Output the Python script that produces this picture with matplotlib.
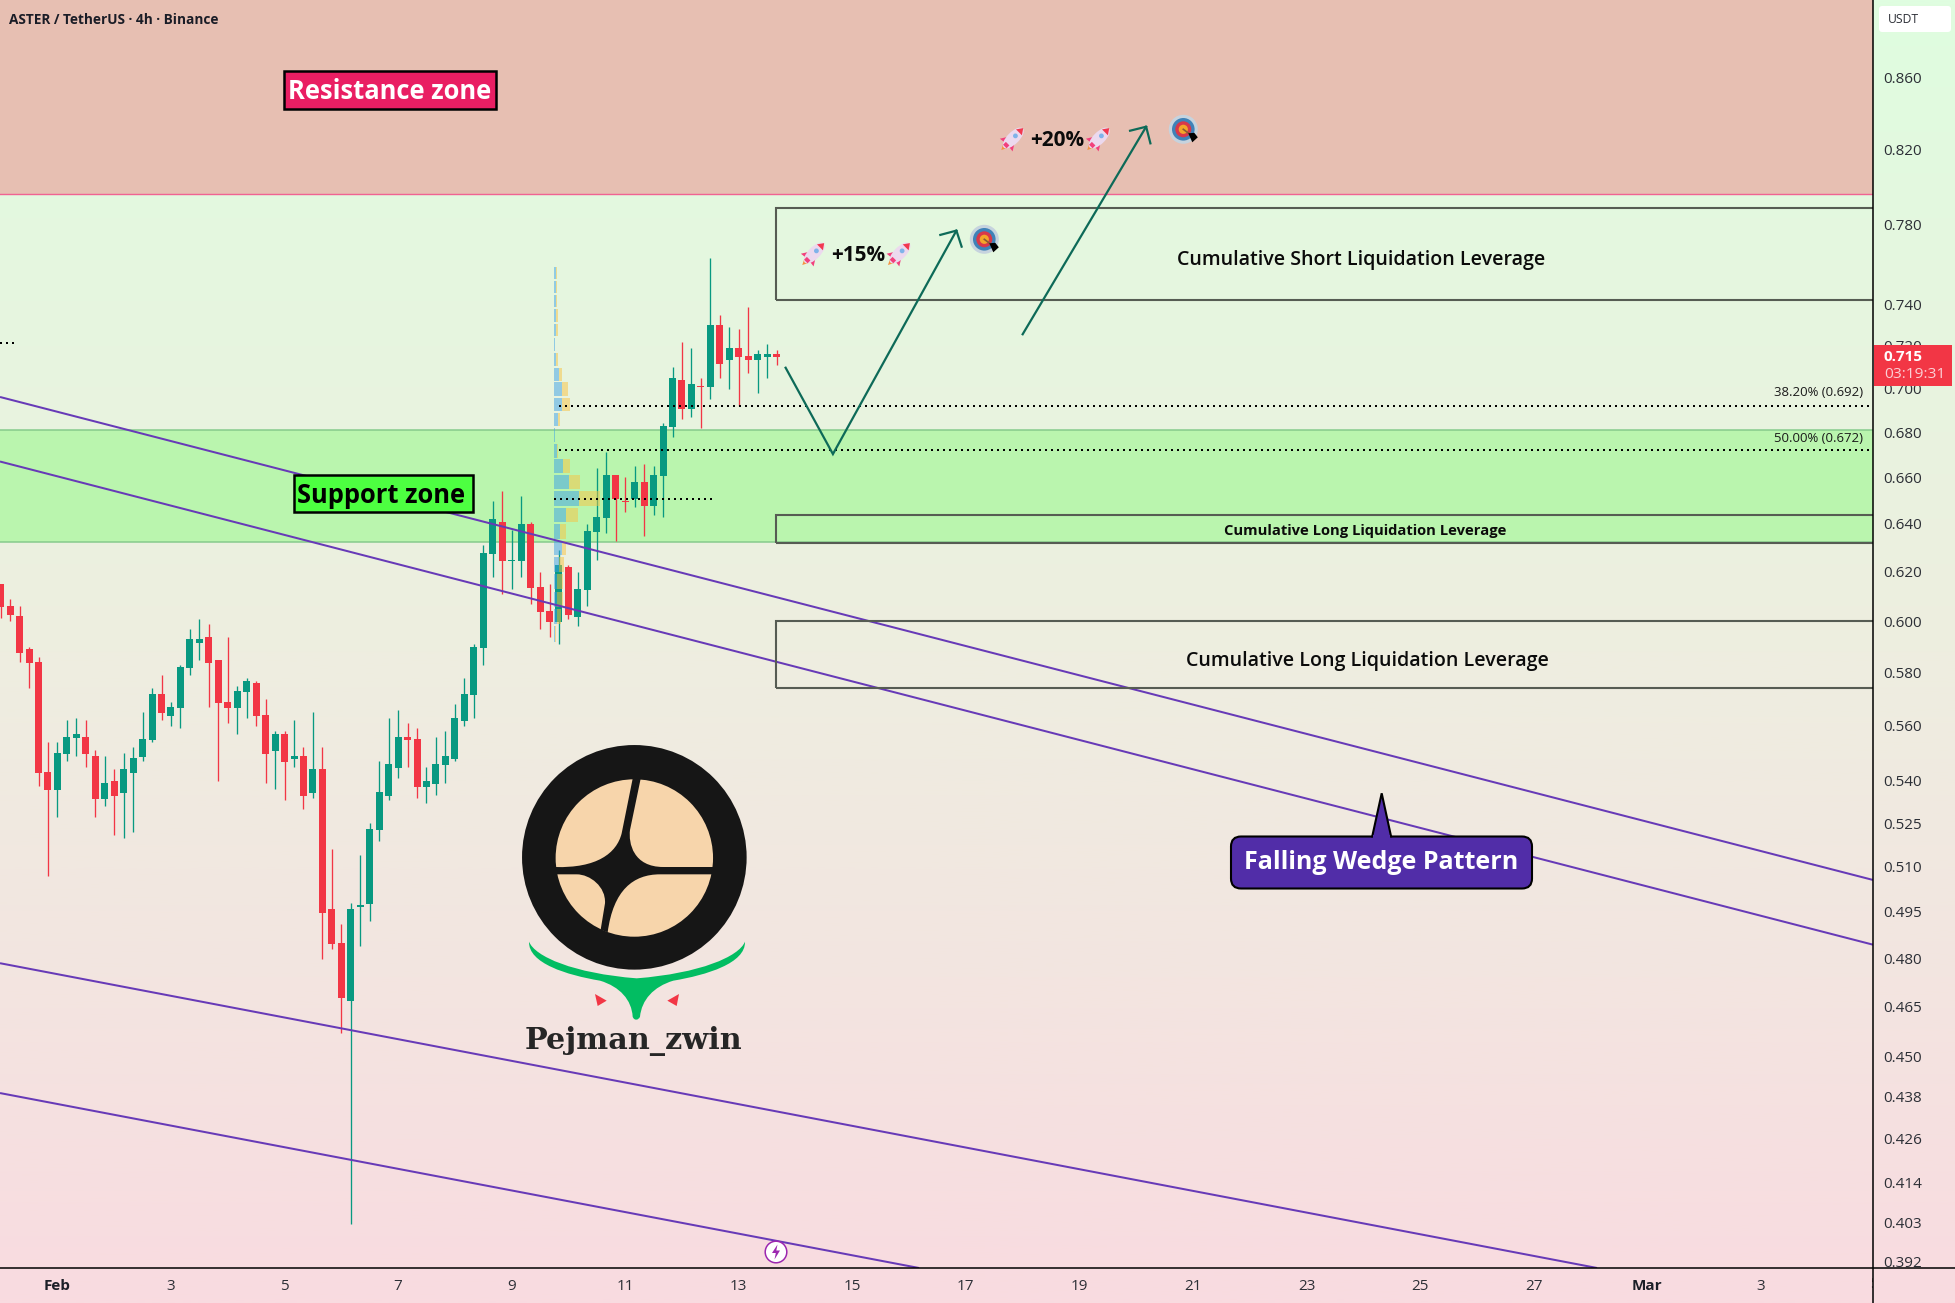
import numpy as np
import matplotlib
matplotlib.use('Agg')
import matplotlib.pyplot as plt
from matplotlib.colors import LinearSegmentedColormap
from matplotlib.patches import Rectangle, Circle, Ellipse, Polygon, PathPatch, FancyBboxPatch
from matplotlib.path import Path
from matplotlib.transforms import Bbox
from matplotlib.ticker import NullLocator

plt.rcParams['font.family'] = ['Open Sans', 'DejaVu Sans']

# ---------- data (4h bars, bar 0 = 31 Jan 00:00) ----------
opens = [0.6150,0.6060,0.6021,0.5891,0.5840,0.5430,0.5367,0.5496,0.5554,0.5557,0.5488,0.5334,0.5398,0.5356,
         0.5427,0.5484,0.5546,0.5718,0.5635,0.5666,0.5818,0.5915,0.5937,0.5848,0.5687,0.5666,0.5725,0.5760,
         0.5639,0.5506,0.5569,0.5477,0.5488,0.5356,0.5441,0.4960,0.4850,0.4666,0.4966,0.4976,0.5226,0.5344,
         0.5445,0.5557,0.5550,0.5377,0.5387,0.5455,0.5477,0.5617,0.5714,0.5895,0.6273,0.6407,0.6244,0.6244,
         0.6399,0.6137,0.6041,0.5997,0.6219,0.6017,0.6125,0.6365,0.6424,0.6610,0.6497,0.6506,0.6579,0.6475,
         0.6605,0.6823,0.7039,0.6905,0.7011,0.7006,0.7300,0.7132,0.7189,0.7151,0.7132,0.7147,0.7161]
highs = [0.6150,0.6089,0.6060,0.5898,0.5859,0.5539,0.5539,0.5620,0.5628,0.5620,0.5510,0.5488,0.5441,0.5499,
         0.5520,0.5650,0.5741,0.5790,0.5687,0.5829,0.5969,0.6009,0.5989,0.5848,0.5937,0.5748,0.5779,0.5767,
         0.5699,0.5579,0.5579,0.5620,0.5520,0.5650,0.5520,0.5161,0.4911,0.4980,0.5140,0.5250,0.5470,0.5628,
         0.5658,0.5609,0.5591,0.5448,0.5557,0.5580,0.5680,0.5779,0.5910,0.6310,0.6497,0.6540,0.6373,0.6518,
         0.6407,0.6199,0.6150,0.6290,0.6227,0.6199,0.6399,0.6640,0.6711,0.6610,0.6601,0.6649,0.6658,0.6649,
         0.6841,0.7099,0.7218,0.7189,0.7048,0.7631,0.7348,0.7290,0.7280,0.7387,0.7180,0.7208,0.7180]
lows = [0.6011,0.6001,0.5840,0.5741,0.5380,0.5070,0.5272,0.5470,0.5488,0.5448,0.5272,0.5309,0.5208,0.5199,
        0.5218,0.5470,0.5539,0.5620,0.5598,0.5591,0.5790,0.5848,0.5668,0.5398,0.5610,0.5569,0.5628,0.5598,
        0.5391,0.5370,0.5330,0.5448,0.5299,0.5338,0.4798,0.4830,0.4569,0.4026,0.4839,0.4920,0.5188,0.5330,
        0.5409,0.5448,0.5338,0.5320,0.5348,0.5391,0.5470,0.5598,0.5628,0.5829,0.6178,0.6109,0.6129,0.6178,
        0.6069,0.5969,0.5938,0.5910,0.6009,0.5981,0.6061,0.6248,0.6361,0.6327,0.6450,0.6471,0.6348,0.6437,
        0.6429,0.6778,0.6859,0.6868,0.6819,0.6951,0.7048,0.6997,0.6919,0.7071,0.6978,0.7048,0.7109]
closes = [0.6058,0.6026,0.5877,0.5837,0.5427,0.5367,0.5499,0.5557,0.5569,0.5496,0.5334,0.5391,0.5344,0.5441,
          0.5481,0.5550,0.5718,0.5647,0.5668,0.5820,0.5930,0.5930,0.5837,0.5684,0.5666,0.5729,0.5767,0.5635,
          0.5496,0.5569,0.5466,0.5488,0.5344,0.5441,0.4947,0.4846,0.4676,0.4960,0.4969,0.5229,0.5358,0.5459,
          0.5557,0.5546,0.5377,0.5398,0.5459,0.5488,0.5628,0.5718,0.5899,0.6277,0.6420,0.6244,0.6248,0.6399,
          0.6133,0.6037,0.5997,0.6227,0.6025,0.6129,0.6369,0.6429,0.6610,0.6506,0.6493,0.6579,0.6475,0.6610,
          0.6828,0.7048,0.6905,0.7020,0.7006,0.7300,0.7114,0.7189,0.7147,0.7132,0.7161,0.7161,0.7147]

y_ticks = [0.860,0.820,0.780,0.740,0.720,0.700,0.680,0.660,0.640,0.620,0.600,0.580,0.560,0.540,0.525,
           0.510,0.495,0.480,0.465,0.450,0.438,0.426,0.414,0.403,0.392]
x_tick_bars = [6,18,30,42,54,66,78,90,102,114,126,138,150,162,174,186]
x_tick_labels = ['Feb','3','5','7','9','11','13','15','17','19','21','23','25','27','Mar','3']

resistance_zone = (0.7959, 0.9051)
support_zone = (0.6324, 0.6808)
liq_boxes = [(0.7421, 0.7889), (0.6320, 0.6437), (0.5741, 0.6002)]
fib_levels = [0.692, 0.672]
poc_level = 0.6506
old_level = 0.7213
wedge_lines = [((-0.07,0.6960),(197.86,0.5056)),
               ((-0.07,0.6669),(197.86,0.4844)),
               ((-0.07,0.4785),(168.7,0.3911)),
               ((-0.07,0.4391),(97.05,0.3911))]
path_a_bars = [82.95, 87.95, 101.0]
path_a_price = [0.7096, 0.6702, 0.7770]
head_a_bars = [99.3, 101.0, 101.55]
head_a_price = [0.7748, 0.7770, 0.7688]
path_b_bars = [108.0, 121.05]
path_b_price = [0.7255, 0.8323]
head_b_bars = [119.35, 121.05, 121.5]
head_b_price = [0.8301, 0.8323, 0.8232]

vp_top, vp_bottom = 0.7590, 0.5914
vp_buy = [6,6,5,6,6,2,6,15,24,24,12,2,9,27,45,75,36,18,24,15,9,9,9,2]
vp_sell = [3,3,4,6,6,2,6,9,18,24,6,1,3,21,33,63,36,18,12,15,18,18,12,4]

# ---------- layout ----------
W, H = 1956, 1303
PW, PH = 1873, 1268
GREEN, RED = '#089981', '#f23645'
fig = plt.figure(figsize=(W/100, H/100), dpi=100)

bg = fig.add_axes([0, 0, 1, 1], zorder=0)
cmap = LinearSegmentedColormap.from_list('bg', [(0, '#dffde0'), (0.33, '#e9f3df'), (0.5, '#eeeee0'),
                                                (0.75, '#f3e5e0'), (1, '#f9dbe0')])
bg.imshow(np.linspace(0, 1, 512)[:, None], cmap=cmap, aspect='auto', extent=[0, 1, 0, 1], vmin=0, vmax=1)
bg.axis('off')

ax = fig.add_axes([0, (H-PH)/H, PW/W, PH/H], zorder=1)
ax.patch.set_alpha(0)
ax.set_yscale('log')
ax.set_xlim(-0.07, 197.86)
ax.set_ylim(0.3911, 0.9051)
for s in ax.spines.values():
    s.set_visible(False)
ax.yaxis.tick_right()
ax.set_yticks(y_ticks, [f'{v:.3f}' for v in y_ticks])
ax.yaxis.set_minor_locator(NullLocator())
ax.set_xticks(x_tick_bars, x_tick_labels)
ax.tick_params(axis='both', length=0, labelsize=11, colors='#2c2f36')
ax.tick_params(axis='y', pad=7.4)
ax.tick_params(axis='x', pad=8)
for lab in ax.get_xticklabels():
    if lab.get_text() in ('Feb', 'Mar'):
        lab.set_fontweight('bold')
        lab.set_color('#1c1f28')

# zones
ax.axhspan(*resistance_zone, color='#e7bfb2', lw=0, zorder=1)
ax.axhspan(*support_zone, color='#baf5ae', lw=0, zorder=1)
ax.axhline(resistance_zone[0], color='#f06292', lw=1, zorder=1.2)
for v in support_zone:
    ax.axhline(v, color='#86cb8c', lw=1.1, zorder=1.2)

# candles
bars = np.arange(len(opens))
o, h, l, c = map(np.array, (opens, highs, lows, closes))
up = c >= o
colors = np.where(up, GREEN, RED)
ax.vlines(bars, l, h, colors=colors, lw=0.95, zorder=3)
ax.bar(bars, np.maximum(np.abs(c-o), 0.0006), bottom=np.minimum(o, c), width=0.74, color=colors, lw=0, zorder=3.1)

# volume profile
edges = np.linspace(vp_top, vp_bottom, len(vp_buy)+1)
vol_to_bars = 1/(9.463*3)
start = 58.47
gap = (edges[0]-edges[1])*0.06
for i, (b, s) in enumerate(zip(vp_buy, vp_sell)):
    b_w, s_w = b*vol_to_bars, s*vol_to_bars
    height = edges[i]-edges[i+1]-2*gap
    ax.add_patch(Rectangle((start, edges[i+1]+gap), b_w, height, fc='#3ca1e7', alpha=.5, lw=0, zorder=3.5))
    ax.add_patch(Rectangle((start+b_w, edges[i+1]+gap), s_w, height, fc='#f8c341', alpha=.5, lw=0, zorder=3.5))

# dotted levels
dots = (0, (1, 2))
ax.plot([58.95, 197.86], [fib_levels[0]]*2, color='k', lw=1.44, ls=dots, zorder=4)
ax.plot([58.95, 197.86], [fib_levels[1]]*2, color='k', lw=1.44, ls=dots, zorder=4)
ax.plot([58.47, 75.2], [poc_level]*2, color='k', lw=1.44, ls=dots, zorder=4)
ax.plot([-0.07, 1.5], [old_level]*2, color='k', lw=1.44, ls=dots, zorder=4)

# wedge lines
for (x0, y0), (x1, y1) in wedge_lines:
    ax.plot([x0, x1], [y0, y1], color='#673ab7', lw=1.45, zorder=4.2, solid_capstyle='butt')

# liquidation boxes
for lo, hi in liq_boxes:
    ax.add_patch(Rectangle((81.93, lo), 130, hi-lo, fill=False, ec='#565c53', lw=1.5, zorder=4.4))

# arrows
ARROW = '#0d6a58'
ax.plot(path_a_bars, path_a_price, color=ARROW, lw=1.6, zorder=5, solid_joinstyle='miter')
ax.plot(head_a_bars, head_a_price, color=ARROW, lw=1.6, zorder=5)
ax.plot(path_b_bars, path_b_price, color=ARROW, lw=1.6, zorder=5)
ax.plot(head_b_bars, head_b_price, color=ARROW, lw=1.6, zorder=5)

# ---------- overlay in reference pixels: frame, labels, logo, icons ----------
ov = fig.add_axes([0, 0, 1, 1], zorder=2)
ov.set_xlim(0, W)
ov.set_ylim(H, 0)
ov.axis('off')
ov.patch.set_alpha(0)
rend = fig.canvas.get_renderer()


def fit(x, y, s, width, ha='center', z=10, **kw):
    t = ov.text(x, y, s, ha=ha, va='center', zorder=z, fontsize=12, **kw)
    w = t.get_window_extent(rend).width
    t.set_fontsize(12*width/w)
    return t


def clip_to(t, x0, y0, x1, y1):
    # the box is given in display pixels, with y measured from the bottom
    t.set_clip_box(Bbox([[x0, H-y1], [x1, H-y0]]))
    t.set_clip_on(True)


# clip the lowest price label and draw the half-hidden date label
for lab in ax.get_yticklabels():
    if lab.get_text() == '0.392':
        lab.set_visible(False)
t392 = ov.text(1883.5, 1263.5, '0.392', fontsize=11, color='#2c2f36', va='center')
clip_to(t392, 1874, 1240, 1956, 1267)
t5 = ov.text(1874, 1285, '5', fontsize=11, color='#2c2f36', ha='center', va='center')
clip_to(t5, 1800, 1270, 1873, 1303)

# frame
ov.plot([0, W], [1267.5, 1267.5], color='k', lw=1.1, zorder=6)
ov.plot([1873, 1873], [0, H], color='k', lw=1.1, zorder=6)

# title and labels
fit(9, 19.5, 'ASTER / TetherUS · 4h · Binance', 210, ha='left', color='#1a1c26', fontweight='bold')

ov.add_patch(Rectangle((283.5, 71), 212.5, 37.5, fc='#e91e63', ec='k', lw=1.8, zorder=9))
fit(389.5, 91.5, 'Resistance zone', 203, color='white', fontweight='bold')
ov.add_patch(Rectangle((293.5, 474.5), 179.5, 37.5, fc='#4dff41', ec='k', lw=1.8, zorder=9))
fit(381.5, 495.5, 'Support zone', 168, color='k', fontweight='bold')

ov.add_patch(FancyBboxPatch((1231, 836.5), 301, 52, boxstyle='round,pad=0,rounding_size=10',
                            fc='#512da8', ec='k', lw=1.5, zorder=9))
ov.add_patch(Polygon([(1372, 837.5), (1381.7, 793.3), (1391.3, 837.5)], closed=False, fc='#512da8', ec='k', lw=1.5, zorder=9.2))
ov.add_patch(Rectangle((1373.2, 835), 17, 4, fc='#512da8', ec='none', zorder=9.3))
fit(1381.2, 862.5, 'Falling Wedge Pattern', 274, color='white', fontweight='bold')

fit(1361, 259.5, 'Cumulative Short Liquidation Leverage', 369, color='#0b0b0b', fontweight='semibold')
fit(1365, 531.5, 'Cumulative Long Liquidation Leverage', 282, color='#0b0b0b', fontweight='bold')
fit(1367, 661, 'Cumulative Long Liquidation Leverage', 363, color='#0b0b0b', fontweight='semibold')
fit(858.5, 255.5, '+15%', 54, color='#0b0b0b', fontweight='bold')
fit(1057.5, 140.5, '+20%', 54, color='#0b0b0b', fontweight='bold')
fit(1863.2, 393, '38.20% (0.692)', 89, ha='right', color='#1a1a1a')
fit(1863.2, 438, '50.00% (0.672)', 89, ha='right', color='#1a1a1a')

# price scale extras
ov.add_patch(FancyBboxPatch((1879, 6), 72, 26, boxstyle='round,pad=0,rounding_size=3', fc='white', ec='none', zorder=8))
fit(1888, 19.5, 'USDT', 31, ha='left', color='#2c2f36', z=9)
ov.add_patch(Rectangle((1874, 345), 78, 41, fc=RED, ec='none', zorder=8))
fit(1884, 356.7, '0.715', 39, ha='left', color='white', fontweight='bold')
fit(1884, 375, '03:19:31', 61, ha='left', color='#fbd0d5')


def rocket(cx, cy):
    ux, uy = np.cos(np.pi/4), -np.sin(np.pi/4)
    vx, vy = np.sin(np.pi/4), np.cos(np.pi/4)
    p = lambda a, b: (cx+a*ux+b*vx, cy+a*uy+b*vy)
    ov.add_patch(Polygon([p(-10, -3.5), p(-10, 3.5), p(-17, 0)], fc='#f5923e', ec='none', zorder=9))
    ov.add_patch(Polygon([p(-2, -4), p(-10, -9), p(-9, -1)], fc='#f2407c', ec='none', zorder=9))
    ov.add_patch(Polygon([p(-2, 4), p(-10, 9), p(-9, 1)], fc='#f2407c', ec='none', zorder=9))
    ov.add_patch(Ellipse((cx, cy), 27, 12, angle=-45, fc='#ecd9ee', ec='none', zorder=9.1))
    ov.add_patch(Polygon([p(14, 0), p(8, -4.2), p(8, 4.2)], fc='#f2384f', ec='none', zorder=9.2))
    ov.add_patch(Polygon([p(-12, -2.5), p(-12, 2.5), p(-8, 2.5), p(-8, -2.5)], fc='#f2407c', ec='none', zorder=9.2))
    ov.add_patch(Circle(p(3, 0), 2.4, fc='#7fb3ea', ec='none', zorder=9.3))


def target(cx, cy):
    for r, col in ((14.5, '#c6d3de'), (11.3, '#3f82b8'), (8, '#d8384a'), (4.6, '#f4a52a')):
        ov.add_patch(Circle((cx, cy), r, fc=col, ec='none', zorder=9))
    ov.plot([cx, cx+8], [cy, cy+6], color='#8a5a33', lw=1.2, zorder=9.2)
    ov.add_patch(Polygon([(cx+5, cy+4), (cx+11, cy+3.5), (cx+14.5, cy+8), (cx+9, cy+13)], fc='k', ec='none', zorder=9.3))


for x, y in ((814.3, 253), (900, 253), (1013.3, 138), (1099.3, 138)):
    rocket(x, y)
target(984.3, 239.3)
target(1183.3, 129.3)

# lightning marker
ov.add_patch(Circle((776, 1252), 10.8, fc='white', ec='#9c27b0', lw=1.1, zorder=9))
ov.add_patch(Polygon([(777.5, 1244.5), (772, 1253), (775.8, 1253), (774.5, 1259.5), (780, 1250.5), (776.3, 1250.5)],
                     fc='#9c27b0', ec='none', zorder=9.1))

# logo
L = lambda x, y: (500+x/3, 730+y/3)
ov.add_patch(Circle(L(403, 382), 112.3, fc='#161616', ec='none', zorder=7))
ov.add_patch(Circle(L(403, 384), 78.7, fc='#f7d5ab', ec='none', zorder=7.1))
star = [(Path.MOVETO, (165, 411)),
        (Path.CURVE4, (290, 415)), (Path.CURVE4, (350, 370)), (Path.CURVE4, (365, 310)),
        (Path.LINETO, (398, 146)), (Path.LINETO, (422, 146)), (Path.LINETO, (390, 300)),
        (Path.CURVE4, (385, 340)), (Path.CURVE4, (400, 411)), (Path.CURVE4, (490, 411)),
        (Path.LINETO, (642, 411)), (Path.LINETO, (642, 433)), (Path.LINETO, (480, 433)),
        (Path.CURVE4, (400, 433)), (Path.CURVE4, (340, 480)), (Path.CURVE4, (323, 607)),
        (Path.LINETO, (302, 599)), (Path.LINETO, (315, 520)),
        (Path.CURVE4, (318, 470)), (Path.CURVE4, (270, 433)), (Path.CURVE4, (230, 433)),
        (Path.LINETO, (170, 433)), (Path.CLOSEPOLY, (165, 411))]
ov.add_patch(PathPatch(Path([L(*v) for _, v in star], [k for k, _ in star]), fc='#161616', ec='none', zorder=7.2))
swoosh = [(Path.MOVETO, (87, 635)),
          (Path.CURVE4, (105, 680)), (Path.CURVE4, (220, 730)), (Path.CURVE4, (410, 745)),
          (Path.CURVE4, (600, 730)), (Path.CURVE4, (717, 680)), (Path.CURVE4, (735, 635)),
          (Path.CURVE4, (737, 700)), (Path.CURVE4, (620, 735)), (Path.CURVE4, (520, 752)),
          (Path.CURVE4, (460, 770)), (Path.CURVE4, (425, 810)), (Path.CURVE4, (420, 860)),
          (Path.CURVE4, (415, 872)), (Path.CURVE4, (402, 872)), (Path.CURVE4, (398, 860)),
          (Path.CURVE4, (395, 810)), (Path.CURVE4, (360, 770)), (Path.CURVE4, (300, 752)),
          (Path.CURVE4, (200, 735)), (Path.CURVE4, (85, 700)), (Path.CURVE4, (87, 635)),
          (Path.CLOSEPOLY, (87, 635))]
ov.add_patch(PathPatch(Path([L(*v) for _, v in swoosh], [k for k, _ in swoosh]), fc='#02bd62', ec='none', zorder=7.3))
ov.add_patch(Polygon([L(285, 792), L(320, 812), L(293, 828)], fc=RED, ec='none', zorder=7.3))
ov.add_patch(Polygon([L(537, 792), L(502, 812), L(530, 828)], fc=RED, ec='none', zorder=7.3))
fit(633.5, 1040.5, 'Pejman_zwin', 217, family='DejaVu Serif', fontweight='bold', color='#262626')

fig.savefig('out.png', dpi=100)
